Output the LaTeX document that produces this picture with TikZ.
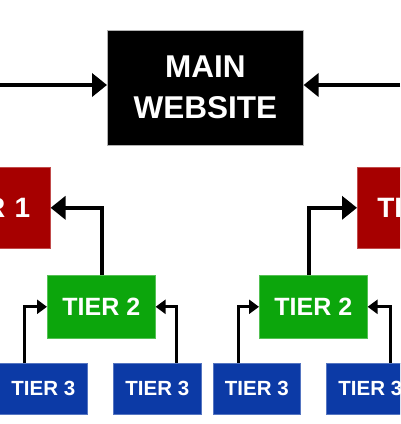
\documentclass[tikz,border=0pt]{standalone}
\usepackage{fontspec}
\setmainfont{Liberation Sans}
\usetikzlibrary{arrows.meta}
\definecolor{tred}{RGB}{166,0,0}
\definecolor{tgreen}{RGB}{12,166,12}
\definecolor{tblue}{RGB}{12,58,166}
\tikzset{
  box/.style={anchor=north west, inner sep=0pt, text=white, font=\bfseries, align=center, draw=#1!70!white, line width=0.6pt, fill=#1},
  bigarr/.style={line width=4pt, -{Triangle[length=15pt,width=23pt]}},
  smallarr/.style={line width=3pt, -{Triangle[length=10pt,width=14pt]}}
}
\begin{document}
\begin{tikzpicture}[x=1pt,y=-1pt]
\useasboundingbox (0,0) rectangle (400,424);
\clip (0,0) rectangle (400,424);
\fill[white] (0,0) rectangle (400,424);
% main
\node[box=black, draw=gray!60, minimum width=196pt, minimum height=115pt, font=\bfseries\fontsize{31.5}{41}\selectfont] (main) at (107,30) {MAIN\\WEBSITE};
\coordinate (lA) at (0,85);
\coordinate (rA) at (400,85);
\draw[bigarr] (lA) -- (lA -| main.west);
\draw[bigarr] (rA) -- (rA -| main.east);
% tier 1
\node[box=tred, minimum width=120pt, minimum height=81pt, font=\bfseries\fontsize{28}{30}\selectfont, text width=100pt, align=right] (t1l) at (-70,167) {TIER 1\hspace*{10pt}};
\node[box=tred, minimum width=120pt, minimum height=81pt, font=\bfseries\fontsize{28}{30}\selectfont, text width=100pt, align=left] (t1r) at (357,167) {\hspace*{10pt}TIER 1};
% tier 2
\node[box=tgreen, minimum width=108pt, minimum height=63pt, font=\bfseries\fontsize{25}{27}\selectfont] (g1) at (47,275) {TIER 2};
\node[box=tgreen, minimum width=108pt, minimum height=63pt, font=\bfseries\fontsize{25}{27}\selectfont] (g2) at (259,275) {TIER 2};
% tier 3
\node[box=tblue, minimum width=88pt, minimum height=51pt, font=\bfseries\fontsize{20.5}{22}\selectfont] (b1) at (-1,363) {TIER 3};
\node[box=tblue, minimum width=88pt, minimum height=51pt, font=\bfseries\fontsize{20.5}{22}\selectfont] (b2) at (113,363) {TIER 3};
\node[box=tblue, minimum width=87pt, minimum height=51pt, font=\bfseries\fontsize{20.5}{22}\selectfont] (b3) at (213,363) {TIER 3};
\node[box=tblue, minimum width=88pt, minimum height=51pt, font=\bfseries\fontsize{20.5}{22}\selectfont] (b4) at (326,363) {TIER 3};
% connectors
\draw[bigarr] ([xshift=1pt]g1.north) |- (t1l.east);
\draw[bigarr] ([xshift=-4pt]g2.north) |- (t1r.west);
\draw[smallarr] ([xshift=-19pt]b1.north) |- (g1.west);
\draw[smallarr] ([xshift=19pt]b2.north) |- (g1.east);
\draw[smallarr] ([xshift=-18pt]b3.north) |- (g2.west);
\draw[smallarr] ([xshift=20pt]b4.north) |- (g2.east);
\end{tikzpicture}
\end{document}
